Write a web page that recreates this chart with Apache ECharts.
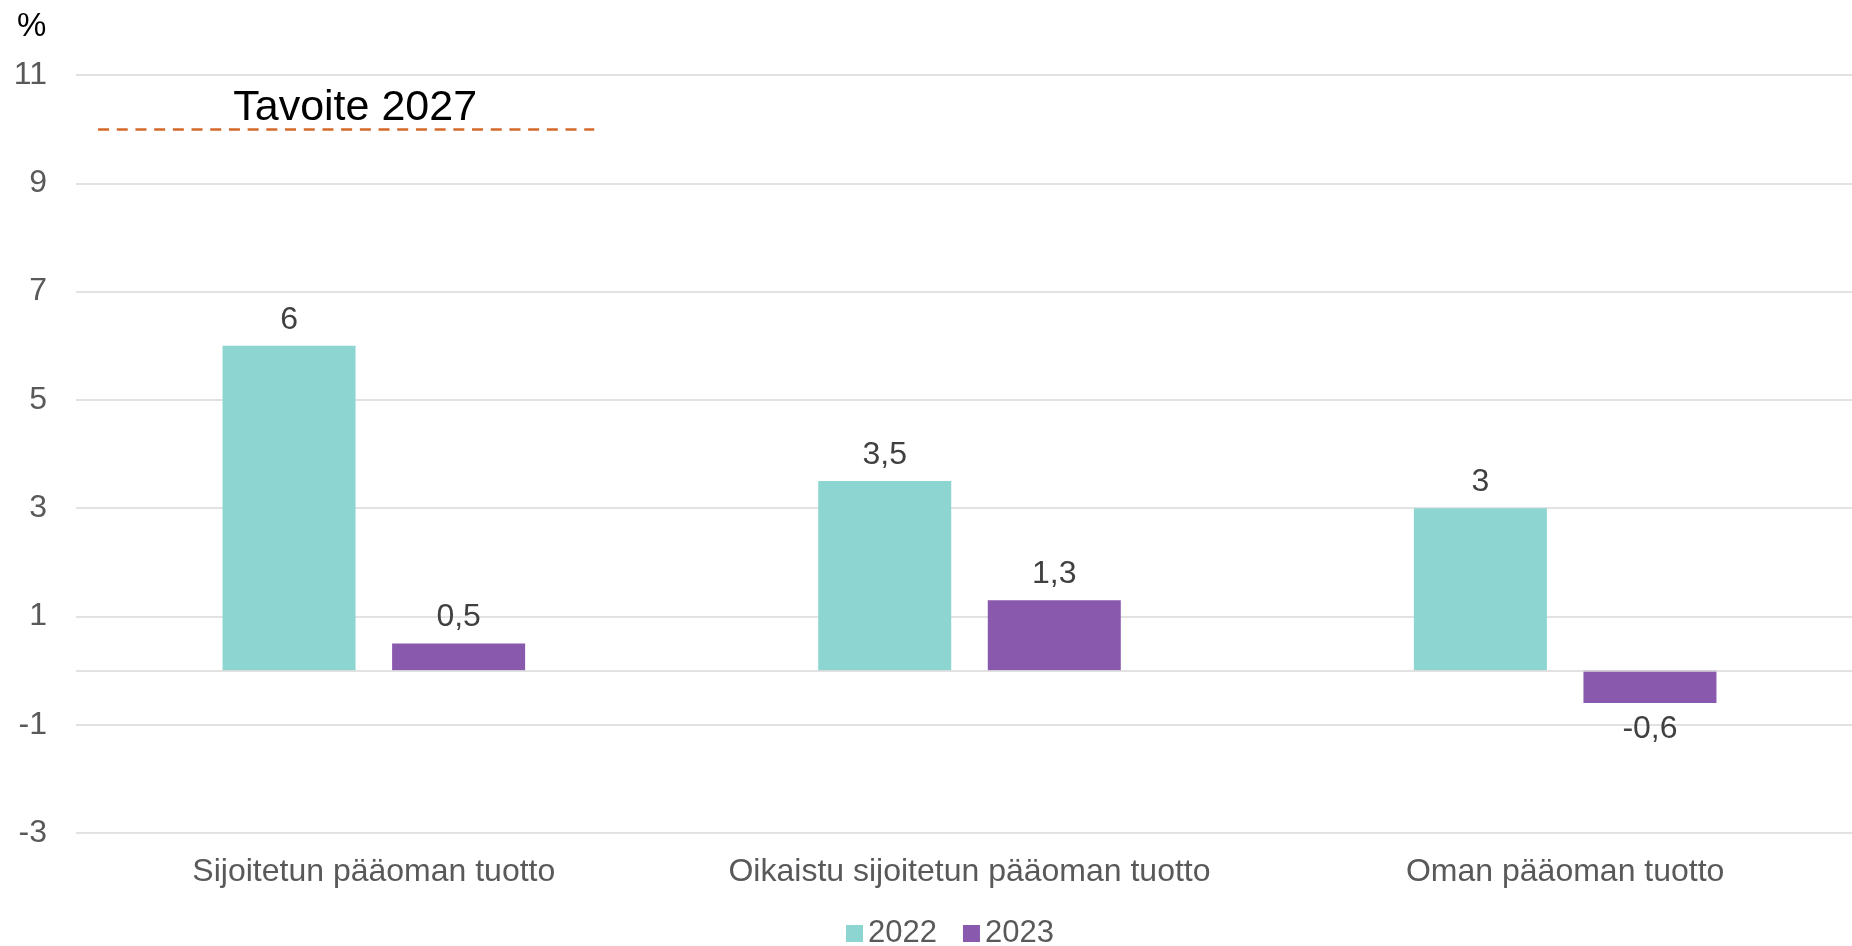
<!DOCTYPE html>
<html>
<head>
<meta charset="utf-8">
<script src="https://cdn.jsdelivr.net/npm/echarts@6/dist/echarts.min.js"></script>
<style>
  html, body { margin: 0; padding: 0; background: #fff; }
  #main { width: 1852px; height: 946px; }
</style>
</head>
<body>
<div id="main"></div>
<script>
// categories and values
const categories = ['Sijoitetun pääoman tuotto', 'Oikaistu sijoitetun pääoman tuotto', 'Oman pääoman tuotto'];
const values2022 = [6, 3.5, 3];
const values2023 = [0.5, 1.3, -0.6];
const seriesNames = ['2022', '2023'];
// target line
const targetValue = 10;
const targetLabel = 'Tavoite 2027';
const targetSpan = [0.037, 0.87]; // in category units along the hidden x axis

const fmt = v => String(v).replace('.', ',');
const FONT = '"Liberation Sans", Arial, sans-serif';

const labelStyle = {
  show: true,
  fontSize: 32,
  fontFamily: FONT,
  color: '#404040',
  distance: 10,
  formatter: p => fmt(p.value)
};

// negative values get their label under the bar
const toItems = arr => arr.map(v => v < 0 ? { value: v, label: { position: 'bottom' } } : v);

let chartDom = document.getElementById('main');
let myChart = echarts.init(chartDom);

let option = {
  animation: false,
  title: {
    text: '%',
    left: 12,
    top: 5,
    textStyle: { fontSize: 33, fontWeight: 'normal', color: '#000', fontFamily: FONT }
  },
  legend: {
    data: seriesNames,
    bottom: -8,
    left: 841,
    itemWidth: 17,
    itemHeight: 17,
    itemGap: 26,
    icon: 'rect',
    textStyle: { fontSize: 31, color: '#595959', fontFamily: FONT }
  },
  grid: { left: 76, width: 1787, top: 75, bottom: 113, outerBoundsMode: 'none' },
  xAxis: [
    {
      type: 'category',
      data: categories,
      axisLine: { show: false },
      axisTick: { show: false },
      axisLabel: { fontSize: 32, color: '#595959', fontFamily: FONT, margin: 23, interval: 0 }
    },
    {
      type: 'value',
      min: 0,
      max: 3,
      show: false
    }
  ],
  yAxis: {
    type: 'value',
    min: -3,
    max: 11,
    interval: 1,
    axisLine: { show: false },
    axisTick: { show: false },
    axisLabel: {
      fontSize: 32,
      color: '#595959',
      fontFamily: FONT,
      margin: 29,
      formatter: v => (Math.abs(v) % 2 === 1 ? String(v) : '')
    },
    splitLine: { lineStyle: { color: ['#d9d9d9', 'rgba(0,0,0,0)'], width: 1.5 } }
  },
  series: [
    {
      name: seriesNames[0],
      type: 'bar',
      data: toItems(values2022),
      barWidth: 133,
      barGap: '27.5%',
      itemStyle: { color: '#8dd5d1' },
      label: Object.assign({ position: 'top' }, labelStyle),
      markLine: {
        silent: true,
        symbol: 'none',
        label: { show: false },
        lineStyle: { color: '#d9d9d9', type: 'solid', width: 1.5 },
        data: [{ yAxis: 0 }]
      }
    },
    {
      name: seriesNames[1],
      type: 'bar',
      data: toItems(values2023),
      barWidth: 133,
      itemStyle: { color: '#8959ad' },
      label: Object.assign({ position: 'top' }, labelStyle)
    },
    {
      name: targetLabel,
      type: 'line',
      xAxisIndex: 1,
      data: [],
      markLine: {
        silent: true,
        symbol: 'none',
        lineStyle: { color: '#d4692a', type: [11, 7.7], width: 2.5 },
        label: {
          show: true,
          position: 'middle',
          formatter: targetLabel,
          fontSize: 43,
          color: '#000',
          fontFamily: FONT,
          distance: 0,
          padding: [0, 0, 0, 18]
        },
        data: [[{ coord: [targetSpan[0], targetValue] }, { coord: [targetSpan[1], targetValue] }]]
      }
    }
  ]
};

myChart.setOption(option);
</script>
</body>
</html>
